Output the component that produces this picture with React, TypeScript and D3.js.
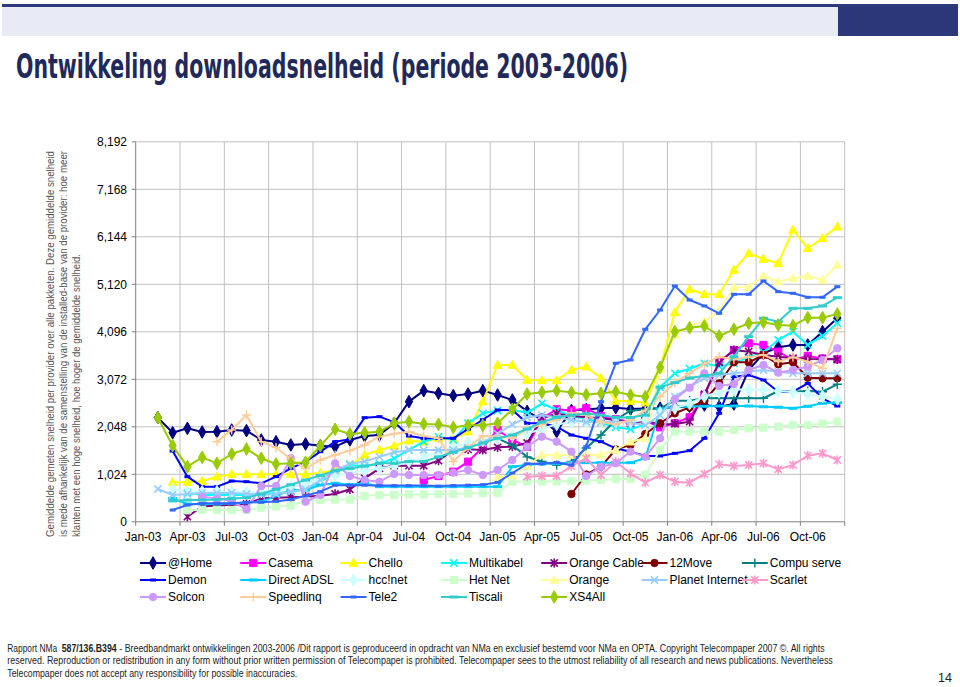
import React, { useLayoutEffect, useRef, useState } from "react";
import * as d3 from "d3";

const categories = [
  "Jan-03","Feb-03","Mar-03","Apr-03","May-03","Jun-03","Jul-03","Aug-03","Sep-03","Oct-03","Nov-03","Dec-03",
  "Jan-04","Feb-04","Mar-04","Apr-04","May-04","Jun-04","Jul-04","Aug-04","Sep-04","Oct-04","Nov-04","Dec-04",
  "Jan-05","Feb-05","Mar-05","Apr-05","May-05","Jun-05","Jul-05","Aug-05","Sep-05","Oct-05","Nov-05","Dec-05",
  "Jan-06","Feb-06","Mar-06","Apr-06","May-06","Jun-06","Jul-06","Aug-06","Sep-06","Oct-06","Nov-06","Dec-06",
];
const yTicks = [0, 1024, 2048, 3072, 4096, 5120, 6144, 7168, 8192];

// place values starting at a given month index
function at(start: number, vals: number[]): (number | null)[] {
  const out: (number | null)[] = [];
  for (let i = 0; i < categories.length; i++) {
    const k = i - start;
    out.push(k >= 0 && k < vals.length ? vals[k] : null);
  }
  return out;
}

const atHome = at(1, [2245, 1921, 2015, 1936, 1943, 1979, 1965, 1764, 1727, 1656, 1677, 1641, 1620, 1764, 1850, 1871, 2124, 2590, 2827, 2770, 2719, 2755, 2827, 2734, 2626, 2380, 2200, 1943, 2400, 2420, 2450, 2460, 2430, 2440, 2450, 2468, 2490, 2518, 2482, 2540, 3273, 3633, 3762, 3812, 3812, 4099, 4387]);
const casema = at(19, [901, 987, 1080, 1296, 1606, 1979, 1764, 1620, 2231, 2425, 2400, 2447, 2281, 2210, 2159, 2180, 2037, 2124, 2253, 2719, 3439, 3700, 3848, 3812, 3668, 3489, 3575, 3520, 3503]);
const chello = at(2, [851, 851, 880, 973, 1024, 1024, 1024, 1024, 1024, 1024, 1050, 1117, 1200, 1440, 1548, 1634, 1749, 1727, 1800, 1780, 1943, 2590, 3381, 3381, 3057, 3050, 3050, 3273, 3344, 3100, 2604, 2604, 2568, 3300, 4516, 5013, 4905, 4905, 5429, 5789, 5666, 5573, 6291, 5897, 6112, 6362]);
const multikabel = at(3, [627, 578, 578, 578, 578, 600, 620, 640, 700, 865, 1045, 1225, 1200, 1250, 1369, 1550, 1727, 1835, 1764, 2124, 2339, 2400, 2410, 2350, 2554, 2410, 2267, 2231, 2137, 2037, 1994, 2100, 2900, 3201, 3300, 3417, 3350, 3417, 3550, 3650, 3920, 4099, 3812, 4006, 4279]);
const orangeCable = at(3, [110, 330, 350, 370, 384, 506, 520, 530, 541, 560, 600, 700, 937, 1153, 1210, 1210, 1210, 1318, 1548, 1562, 1548, 1606, 1620, 1700, 2231, 2330, 2280, 2253, 2231, 2195, 2124, 2180, 2100, 2109, 2159, 2750, 3439, 3704, 3668, 3596, 3560, 3525, 3510, 3505, 3503]);
const move12 = at(29, [599, 1020, 1188, 1562, 1656, 1893, 2124, 2339, 2468, 2604, 2985, 3439, 3439, 3596, 3395, 3439, 3107, 3093, 3093]);
const compuServe = at(24, [1800, 1650, 1400, 1300, 1225, 1300, 1591, 1871, 2200, 2396, 2420, 2447, 2611, 2611, 2662, 2662, 2662, 2662, 2662, 2820, 2805, 2820, 2805, 2964]);
const demon = at(2, [1526, 973, 757, 757, 880, 865, 829, 973, 1153, 1296, 1512, 1727, 1778, 2245, 2267, 2150, 1850, 1800, 1800, 1800, 2000, 2200, 2410, 2410, 2124, 2124, 2050, 1871, 1800, 1727, 1584, 1512, 1419, 1419, 1476, 1534, 1800, 2339, 3129, 3165, 3057, 2805, 2805, 2985, 2662, 2496]);
const directAdsl = at(2, [506, 384, 384, 384, 400, 410, 433, 560, 686, 686, 793, 830, 800, 830, 757, 757, 757, 757, 757, 757, 757, 757, 757, 1188, 1230, 1250, 1261, 1275, 1275, 1275, 1275, 1275, 1369, 2432, 2482, 2490, 2490, 2496, 2496, 2496, 2480, 2470, 2447, 2490, 2554, 2568]);
const hccNet = at(2, [700, 650, 650, 650, 650, 640, 650, 700, 750, 800, 950, 1000, 1050, 1100, 1150, 1200, 1300, 1400, 1500, 1600, 1700, 1750, 1800, 1850, 1900, 2000, 2100, 2150, 2150, 2150, 2150, 2150, 2200, 2350, 2450, 2550, 2700, 2800, 2850, 2850, 2850, 2820, 2800, 2750, 2700, 2650]);
const hetNet = at(3, [250, 254, 254, 254, 254, 300, 330, 350, 455, 470, 480, 480, 560, 577, 578, 590, 590, 600, 600, 610, 620, 627, 865, 870, 870, 870, 880, 890, 901, 920, 920, 1009, 1548, 1943, 1943, 1943, 1943, 1980, 2015, 2030, 2051, 2087, 2087, 2116, 2159]);
const orange = at(24, [959, 1000, 1200, 1440, 1440, 1440, 1440, 1440, 1550, 1727, 1800, 3300, 4027, 4222, 4315, 4545, 5055, 5055, 5299, 5177, 5249, 5299, 5213, 5537]);
const planetInternet = at(1, [707, 578, 600, 620, 620, 620, 600, 580, 600, 650, 700, 900, 1100, 1250, 1300, 1400, 1500, 1548, 1548, 1548, 1548, 1600, 1700, 1900, 2100, 2250, 2300, 2250, 2200, 2150, 2150, 2150, 2140, 2080, 2300, 2700, 2900, 3100, 3165, 3201, 3237, 3273, 3237, 3201, 3201, 3201, 3201]);
const scarlet = at(26, [973, 987, 987, 1200, 1369, 1009, 1296, 1045, 843, 1009, 865, 843, 1031, 1239, 1203, 1225, 1261, 1131, 1225, 1426, 1476, 1332]);
const solcon = at(4, [541, 500, 450, 269, 772, 772, 1369, 433, 578, 1261, 987, 901, 865, 1031, 1009, 1009, 1009, 1060, 1117, 1009, 1117, 1332, 1620, 1835, 1727, 1512, 987, 1188, 1261, 1512, 1404, 1800, 2641, 2892, 3201, 2928, 2971, 3273, 3381, 3215, 3273, 3345, 3489, 3740]);
const speedlinq = at(5, [1727, 1979, 2303, 1727, 1600, 1350, 1150, 1332, 1440, 1534, 1656, 1835, 1900, 1943, 1850, 1800, 1300, 1600, 1850, 1835, 1800, 2000, 2100, 2200, 2350, 2300, 2150, 2100, 2200, 2400, 2700, 3000, 3200, 3400, 3560, 3500, 3550, 3600, 3452, 3550, 3450, 3309, 4171]);
const tele2 = at(2, [254, 362, 398, 398, 398, 420, 420, 440, 480, 560, 650, 790, 790, 790, 780, 780, 780, 780, 770, 780, 790, 800, 850, 1050, 1250, 1250, 1280, 1220, 1620, 2590, 3417, 3489, 4150, 4566, 5084, 4782, 4653, 4495, 4905, 4905, 5192, 4961, 4926, 4840, 4840, 5069]);
const tiscali = at(2, [450, 470, 470, 480, 500, 520, 600, 700, 800, 900, 1000, 1100, 1150, 1200, 1260, 1260, 1300, 1300, 1400, 1500, 1600, 1700, 1800, 1871, 2000, 2150, 2250, 2300, 2330, 2300, 2250, 2250, 2300, 2900, 3000, 3100, 3150, 3200, 3560, 3991, 4387, 4315, 4602, 4602, 4653, 4832]);
const xs4all = at(1, [2245, 1641, 1188, 1390, 1261, 1462, 1570, 1369, 1246, 1261, 1283, 1640, 1994, 1893, 1921, 1943, 2124, 2159, 2109, 2100, 2037, 2080, 2080, 2124, 2425, 2755, 2792, 2827, 2790, 2740, 2770, 2805, 2734, 2698, 3330, 4099, 4185, 4222, 4006, 4150, 4279, 4301, 4243, 4229, 4401, 4401, 4480]);

type MarkerType = "diamond" | "square" | "triangle" | "x" | "star" | "circle" | "plus" | "dash" | "longdash";

const series: { name: string; data: (number | null)[]; color: string; marker: MarkerType }[] = [
  { name: "@Home", data: atHome, color: "#000080", marker: "diamond" },
  { name: "Casema", data: casema, color: "#FF00FF", marker: "square" },
  { name: "Chello", data: chello, color: "#FFFF00", marker: "triangle" },
  { name: "Multikabel", data: multikabel, color: "#00FFFF", marker: "x" },
  { name: "Orange Cable", data: orangeCable, color: "#800080", marker: "star" },
  { name: "12Move", data: move12, color: "#800000", marker: "circle" },
  { name: "Compu serve", data: compuServe, color: "#008080", marker: "plus" },
  { name: "Demon", data: demon, color: "#0000FF", marker: "dash" },
  { name: "Direct ADSL", data: directAdsl, color: "#00CCFF", marker: "longdash" },
  { name: "hcc!net", data: hccNet, color: "#CCFFFF", marker: "diamond" },
  { name: "Het Net", data: hetNet, color: "#CCFFCC", marker: "square" },
  { name: "Orange", data: orange, color: "#FFFF99", marker: "triangle" },
  { name: "Planet Internet", data: planetInternet, color: "#99CCFF", marker: "x" },
  { name: "Scarlet", data: scarlet, color: "#FF99CC", marker: "star" },
  { name: "Solcon", data: solcon, color: "#CC99FF", marker: "circle" },
  { name: "Speedlinq", data: speedlinq, color: "#FFCC99", marker: "plus" },
  { name: "Tele2", data: tele2, color: "#3366FF", marker: "dash" },
  { name: "Tiscali", data: tiscali, color: "#33CCCC", marker: "longdash" },
  { name: "XS4All", data: xs4all, color: "#99CC00", marker: "diamond" },
];

const sideNote = [
  "Gemiddelde gemeten snelheid per provider over alle pakketen. Deze gemiddelde snelheid",
  "is mede afhankelijk van de samenstelling van de installed-base van de provider: hoe meer",
  "klanten met een hoge snelheid, hoe hoger de gemiddelde snelheid.",
];

const footerParts = [
  "Rapport NMa",
  "587/136.B394",
  "- Breedbandmarkt ontwikkelingen 2003-2006 /Dit rapport is geproduceerd in opdracht van NMa en exclusief bestemd voor NMa en OPTA. Copyright Telecompaper 2007 ©. All rights",
  "reserved. Reproduction or redistribution in any form without prior written permission of Telecompaper is prohibited. Telecompaper sees to the utmost reliability of all research and news publications. Nevertheless",
  "Telecompaper does not accept any responsibility for possible inaccuracies.",
];

// text whose font size is chosen so its natural width fits `width`; height kept by a vertical scale
function FitText({ x, y, width, size, bold, children }: { x: number; y: number; width: number; size: number; bold?: boolean; children: string }) {
  const ref = useRef<SVGTextElement>(null);
  const [fs, setFs] = useState(size);
  useLayoutEffect(() => {
    const el = ref.current;
    if (!el) return;
    const nat = el.getComputedTextLength();
    if (nat > 0) setFs((size * width) / nat);
  }, [size, width]);
  return (
    <text ref={ref} x={0} y={0} fontSize={fs} fontWeight={bold ? "bold" : "normal"} transform={`translate(${x},${y}) scale(1,${size / fs})`}>
      {children}
    </text>
  );
}

function Marker({ type, color, x, y }: { type: MarkerType; color: string; x: number; y: number }) {
  const t = `translate(${x},${y})`;
  switch (type) {
    case "diamond":
      return <path transform={t} d={d3.symbol(d3.symbolDiamond, 46)()!} fill={color} stroke={color} strokeWidth={1} />;
    case "square":
      return <path transform={t} d="M-3.6,-3.6H3.6V3.6H-3.6Z" fill={color} stroke={color} strokeWidth={1} />;
    case "triangle":
      return <path transform={t} d="M0,-4.6L4.3,3.3H-4.3Z" fill={color} stroke={color} strokeWidth={1} />;
    case "circle":
      return <circle transform={t} r={3.7} fill={color} stroke={color} strokeWidth={1} />;
    case "x":
      return <path transform={t} d="M-3.6,-3.6L3.6,3.6M-3.6,3.6L3.6,-3.6" stroke={color} strokeWidth={1.6} fill="none" />;
    case "star":
      return <path transform={t} d="M-3.6,-3.6L3.6,3.6M-3.6,3.6L3.6,-3.6M0,-4.6V4.6" stroke={color} strokeWidth={1.6} fill="none" />;
    case "plus":
      return <path transform={t} d="M-4.6,0H4.6M0,-4.6V4.6" stroke={color} strokeWidth={1.4} fill="none" />;
    case "dash":
      return <path transform={t} d="M-3,0H3" stroke={color} strokeWidth={3} fill="none" />;
    case "longdash":
      return <path transform={t} d="M-4.5,0H4.5" stroke={color} strokeWidth={3} fill="none" />;
  }
}

export default function App() {
  const left = 135.7, right = 844.7, top = 141.8, bottom = 521.8;
  const x = d3.scaleBand<string>().domain(categories).range([left, right]);
  const bw = x.bandwidth();
  const cx = (i: number) => (x(categories[i]) as number) + bw / 2;
  const y = d3.scaleLinear().domain([0, 8192]).range([bottom, top]);
  const fmt = d3.format(",");
  const line = d3
    .line<[number, number | null]>()
    .defined((d) => d[1] != null)
    .x((d) => cx(d[0]))
    .y((d) => y(d[1] as number));

  const vGrid: number[] = [];
  for (let i = 3; i <= categories.length; i += 3) {
    vGrid.push(i < categories.length ? (x(categories[i]) as number) : right);
  }
  const labelIdx: number[] = [];
  for (let i = 0; i < categories.length; i += 3) labelIdx.push(i);

  const font = "'Liberation Sans', Arial, Helvetica, sans-serif";

  return (
    <svg width={960} height={687} style={{ position: "absolute", left: 0, top: 0, background: "#fff" }} fontFamily={font}>
      <rect x={0} y={0} width={960} height={687} fill="#fff" />
      {/* header */}
      <rect x={2} y={4} width={956} height={3} fill="#2E3A7C" />
      <rect x={2} y={7} width={836} height={29} fill="#E8EAF6" />
      <rect x={838} y={7} width={120} height={29} fill="#2B3778" />
      <text x={16} y={78} fontSize={34} fontWeight="bold" fill="#1F2A5A" fontFamily="'DejaVu Sans Condensed', 'Liberation Sans Narrow', sans-serif" textLength={612} lengthAdjust="spacingAndGlyphs">
        Ontwikkeling downloadsnelheid (periode 2003-2006)
      </text>

      {/* side note */}
      {sideNote.map((s, k) => (
        <text key={k} transform={`translate(${54 + k * 13.2},537) rotate(-90)`} fontSize={11} fill="#555" textLength={k === 2 ? 283 : 386} lengthAdjust="spacingAndGlyphs">
          {s}
        </text>
      ))}

      {/* grid */}
      {yTicks.slice(1).map((t) => (
        <line key={"h" + t} x1={left} x2={right} y1={y(t)} y2={y(t)} stroke="#C0C0C0" strokeWidth={1} />
      ))}
      {vGrid.map((gx, k) => (
        <line key={"v" + k} x1={gx} x2={gx} y1={top} y2={bottom} stroke="#C0C0C0" strokeWidth={1} />
      ))}

      {/* axes */}
      <line x1={left} x2={left} y1={top} y2={bottom} stroke="#808080" />
      <line x1={left} x2={right} y1={bottom} y2={bottom} stroke="#808080" />
      {yTicks.map((t) => (
        <g key={"yt" + t}>
          <line x1={left - 4} x2={left} y1={y(t)} y2={y(t)} stroke="#808080" />
          <text x={127} y={y(t)} dy="0.35em" textAnchor="end" fontSize={12} fill="#000">
            {fmt(t)}
          </text>
        </g>
      ))}
      {[left, ...vGrid].map((gx, k) => (
        <line key={"xt" + k} x1={gx} x2={gx} y1={bottom} y2={bottom + 4} stroke="#808080" />
      ))}
      {labelIdx.map((i) => (
        <text key={"xl" + i} x={cx(i)} y={541} textAnchor="middle" fontSize={12} fill="#000">
          {categories[i]}
        </text>
      ))}

      {/* series */}
      {series.map((s) => {
        const pts = s.data.map((v, i) => [i, v] as [number, number | null]);
        return (
          <g key={s.name}>
            <path d={line(pts) || ""} fill="none" stroke={s.color} strokeWidth={2} strokeLinejoin="round" />
            {pts
              .filter((p) => p[1] != null)
              .map((p) => (
                <Marker key={p[0]} type={s.marker} color={s.color} x={cx(p[0])} y={y(p[1] as number)} />
              ))}
          </g>
        );
      })}

      {/* legend */}
      {series.map((s, k) => {
        const col = k < 7 ? k : k < 14 ? k - 7 : k - 14;
        const row = k < 7 ? 0 : k < 14 ? 1 : 2;
        const lx = 140 + col * 100.3;
        const ly = 563 + row * 17;
        return (
          <g key={"lg" + s.name}>
            <line x1={lx} x2={lx + 26} y1={ly} y2={ly} stroke={s.color} strokeWidth={2} />
            <Marker type={s.marker} color={s.color} x={lx + 13} y={ly} />
            <text x={lx + 28} y={ly} dy="0.35em" fontSize={12} fill="#000">
              {s.name}
            </text>
          </g>
        );
      })}

      {/* footer */}
      <g fill="#222">
        <FitText x={7.3} y={651.5} width={50} size={11}>{footerParts[0]}</FitText>
        <FitText x={61.7} y={651.5} width={55} size={11} bold>{footerParts[1]}</FitText>
        <FitText x={119.3} y={651.5} width={705.7} size={11}>{footerParts[2]}</FitText>
        <FitText x={7.3} y={664} width={826.7} size={11}>{footerParts[3]}</FitText>
        <FitText x={7.3} y={676.5} width={290.4} size={11}>{footerParts[4]}</FitText>
        <text x={952} y={682} fontSize={12.5} textAnchor="end">14</text>
      </g>
    </svg>
  );
}
